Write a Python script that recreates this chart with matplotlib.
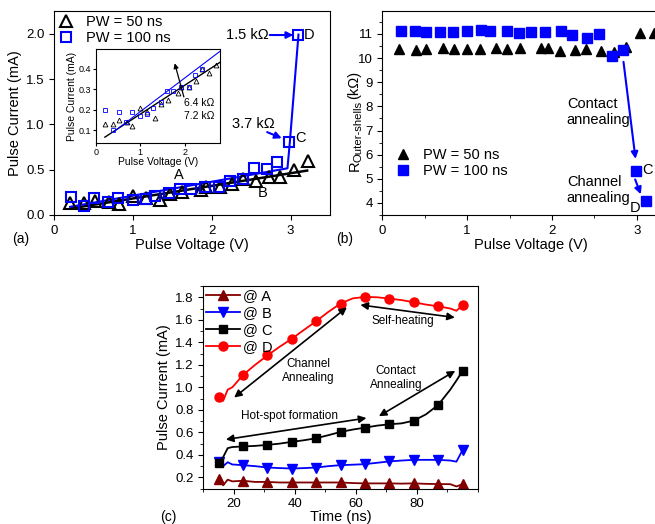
import matplotlib
matplotlib.use("Agg")
import matplotlib.pyplot as plt
from matplotlib.ticker import MultipleLocator, FormatStrFormatter, FixedLocator

plt.rcParams['font.family'] = ['Liberation Sans', 'DejaVu Sans']
plt.rcParams['xtick.direction'] = 'out'
plt.rcParams['ytick.direction'] = 'out'
plt.rcParams['xtick.labelsize'] = 9.5
plt.rcParams['ytick.labelsize'] = 9.5
plt.rcParams['axes.labelsize'] = 10.5

BLUE = '#0000ff'

# (a) pulse current vs pulse voltage
v50 = [0.20, 0.38, 0.52, 0.69, 0.82, 1.00, 1.16, 1.34, 1.47, 1.62, 1.86, 1.93, 2.10, 2.26, 2.39, 2.56, 2.72, 2.87, 3.04, 3.22]
i50 = [0.13, 0.13, 0.15, 0.14, 0.12, 0.21, 0.19, 0.16, 0.23, 0.25, 0.28, 0.31, 0.31, 0.34, 0.40, 0.38, 0.42, 0.42, 0.50, 0.60]
v100 = [0.21, 0.38, 0.51, 0.68, 0.81, 1.00, 1.16, 1.28, 1.46, 1.60, 1.74, 1.91, 2.09, 2.23, 2.39, 2.54, 2.70, 2.83, 2.98, 3.10]
i100 = [0.20, 0.10, 0.19, 0.14, 0.19, 0.17, 0.18, 0.21, 0.24, 0.29, 0.29, 0.31, 0.31, 0.37, 0.40, 0.52, 0.51, 0.59, 0.80, 1.99]
# guide lines drawn in (a)
fit50_v = [0.22, 3.21]
fit50_i = [0.074, 0.49]
fit100_v = [0.20, 2.96, 2.99, 3.10]
fit100_i = [0.09, 0.515, 0.80, 1.99]
# fits shown in the inset
ins50_v = [0.20, 2.81]
ins50_i = [0.067, 0.433]
ins100_v = [0.41, 2.81]
ins100_i = [0.095, 0.487]

# (b) outer-shell resistance
vb50 = [0.20, 0.40, 0.52, 0.71, 0.84, 1.00, 1.15, 1.34, 1.47, 1.62, 1.87, 1.95, 2.10, 2.27, 2.40, 2.58, 2.73, 2.87, 3.04, 3.20]
rb50 = [10.37, 10.35, 10.37, 10.40, 10.37, 10.37, 10.37, 10.40, 10.37, 10.40, 10.42, 10.40, 10.30, 10.33, 10.37, 10.30, 10.26, 10.47, 11.03, 11.03]
vb100 = [0.22, 0.39, 0.52, 0.68, 0.83, 1.00, 1.16, 1.27, 1.47, 1.61, 1.75, 1.92, 2.11, 2.24, 2.41, 2.55, 2.71, 2.84, 2.99, 3.11]
rb100 = [11.14, 11.11, 11.08, 11.10, 11.08, 11.11, 11.15, 11.13, 11.11, 11.04, 11.06, 11.10, 11.14, 10.96, 10.83, 11.00, 10.10, 10.35, 5.34, 4.07]

# (c) transient pulse current traces
t_trace = [15, 16.5, 18, 19.5, 23, 27, 31, 35, 39, 43, 47, 51, 55, 59, 63, 67, 71, 75, 79, 83, 87, 91, 93, 95]
t_mark = [15, 23, 31, 39, 47, 55, 63, 71, 79, 87, 95]
cur_A = [0.19, 0.13, 0.18, 0.165, 0.17, 0.16, 0.16, 0.155, 0.155, 0.155, 0.155, 0.155, 0.155, 0.15, 0.147, 0.147, 0.147, 0.145, 0.147, 0.143, 0.141, 0.14, 0.12, 0.14]
cur_B = [0.333, 0.30, 0.335, 0.315, 0.309, 0.30, 0.288, 0.283, 0.279, 0.283, 0.288, 0.30, 0.309, 0.313, 0.318, 0.33, 0.342, 0.35, 0.356, 0.356, 0.356, 0.35, 0.34, 0.442]
cur_C = [0.33, 0.38, 0.46, 0.47, 0.475, 0.48, 0.489, 0.50, 0.516, 0.53, 0.548, 0.575, 0.604, 0.625, 0.642, 0.66, 0.672, 0.68, 0.704, 0.76, 0.843, 0.98, 1.06, 1.145]
cur_D = [0.917, 0.88, 0.98, 1.0, 1.109, 1.20, 1.283, 1.36, 1.431, 1.51, 1.587, 1.67, 1.744, 1.79, 1.803, 1.80, 1.788, 1.775, 1.756, 1.735, 1.72, 1.70, 1.68, 1.729]

W, H = 655, 524
fig = plt.figure(figsize=(6.55, 5.24), dpi=100)

# ---------------- (a) ----------------
ax1 = fig.add_axes([0.0829, 0.5897, 0.4209, 0.3893])
ax1.plot(fit50_v, fit50_i, color='black', lw=1.8)
ax1.plot(fit100_v, fit100_i, color=BLUE, lw=1.5)
ax1.plot(v50, i50, '^', ls='none', mfc='none', mec='black', mew=1.5, ms=8.5, label='PW = 50 ns')
ax1.plot(v100, i100, 's', ls='none', mfc='none', mec=BLUE, mew=1.5, ms=7, label='PW = 100 ns')
ax1.set_xlim(0, 3.5)
ax1.set_ylim(0, 2.25)
ax1.xaxis.set_major_locator(MultipleLocator(1))
ax1.yaxis.set_major_locator(MultipleLocator(0.5))
ax1.yaxis.set_major_formatter(FormatStrFormatter('%.1f'))
ax1.set_xlabel('Pulse Voltage (V)', labelpad=1)
ax1.set_ylabel('Pulse Current (mA)', labelpad=3)
ax1.legend(loc='upper left', frameon=False, fontsize=10.5, handlelength=1.0,
           handletextpad=0.9, borderaxespad=0.1, borderpad=0.2, labelspacing=0.1)
ax1.annotate('', xy=(3.07, 1.985), xytext=(2.70, 1.985),
             arrowprops=dict(arrowstyle='-|>', color=BLUE, lw=1.5, mutation_scale=10))
ax1.text(2.445, 1.985, '1.5 kΩ', ha='center', va='center', fontsize=10.5)
ax1.text(3.24, 1.99, 'D', ha='center', va='center', fontsize=10.5)
ax1.annotate('', xy=(2.92, 0.835), xytext=(2.67, 0.926),
             arrowprops=dict(arrowstyle='-|>', color=BLUE, lw=1.5, mutation_scale=10))
ax1.text(2.53, 1.0, '3.7 kΩ', ha='center', va='center', fontsize=10.5)
ax1.text(3.13, 0.845, 'C', ha='center', va='center', fontsize=10.5)
ax1.text(1.58, 0.44, 'A', ha='center', va='center', fontsize=10.5)
ax1.text(2.65, 0.24, 'B', ha='center', va='center', fontsize=10.5)
fig.text(21 / W, 1 - 239 / H, '(a)', ha='center', va='center', fontsize=10)

# inset
axi = fig.add_axes([0.1466, 0.7277, 0.1893, 0.1782])
axi.plot(ins50_v, ins50_i, color='black', lw=1.0)
axi.plot(ins100_v, ins100_i, color=BLUE, lw=0.8)
axi.plot(v50, i50, '^', ls='none', mfc='none', mec='black', mew=0.6, ms=3.5)
axi.plot(v100, i100, 's', ls='none', mfc='none', mec=BLUE, mew=0.6, ms=3.2)
axi.set_xlim(0, 2.8)
axi.set_ylim(0.04, 0.495)
axi.xaxis.set_major_locator(MultipleLocator(1))
axi.yaxis.set_major_locator(MultipleLocator(0.1))
axi.yaxis.set_major_formatter(FormatStrFormatter('%.1f'))
axi.tick_params(labelsize=6.5, length=2, pad=1.5)
axi.set_xlabel('Pulse Voltage (V)', fontsize=7.5, labelpad=0)
axi.set_ylabel('Pulse Current (mA)', fontsize=7.5, labelpad=1)
axi.annotate('', xy=(1.76, 0.44), xytext=(2.0, 0.25),
             arrowprops=dict(arrowstyle='-|>', color='black', lw=0.9, mutation_scale=7))
axi.text(2.33, 0.234, '6.4 kΩ', ha='center', va='center', fontsize=7.5)
axi.text(2.33, 0.17, '7.2 kΩ', ha='center', va='center', fontsize=7.5)

# ---------------- (b) ----------------
ax2 = fig.add_axes([0.5837, 0.5897, 0.4531, 0.3893])
ax2.plot(vb50, rb50, '^', ls='none', color='black', ms=7.5, label='PW = 50 ns')
ax2.plot(vb100, rb100, 's', ls='none', color=BLUE, ms=6.5, label='PW = 100 ns')
ax2.set_xlim(0, 3.5)
ax2.set_ylim(3.5, 11.95)
ax2.xaxis.set_major_locator(MultipleLocator(1))
ax2.xaxis.set_minor_locator(MultipleLocator(0.5))
ax2.yaxis.set_major_locator(MultipleLocator(1))
ax2.yaxis.set_minor_locator(MultipleLocator(0.5))
ax2.set_xlabel('Pulse Voltage (V)', labelpad=1)
# y label: R with a large subscript, built from three rotated texts
ylab = dict(rotation=90, rotation_mode='anchor', ha='left', va='baseline')
fig.text(358.5 / W, 1 - 171 / H, 'R', fontsize=10.5, **ylab)
fig.text(361.5 / W, 1 - 162 / H, 'Outer-shells', fontsize=8.2, **ylab)
fig.text(358.5 / W, 1 - 99 / H, '(kΩ)', fontsize=10.5, **ylab)
ax2.legend(loc='upper left', bbox_to_anchor=(0.03, 0.35), frameon=False, fontsize=10.5,
           handlelength=1.0, handletextpad=0.9, borderaxespad=0, borderpad=0.3, labelspacing=0.15)
ax2.annotate('', xy=(2.99, 5.71), xytext=(2.84, 9.96),
             arrowprops=dict(arrowstyle='-|>', color=BLUE, lw=1.5, mutation_scale=10))
ax2.annotate('', xy=(3.06, 4.25), xytext=(2.97, 5.08),
             arrowprops=dict(arrowstyle='-|>', color=BLUE, lw=1.5, mutation_scale=10))
ax2.text(2.175, 7.77, 'Contact\nannealing', ha='left', va='center', fontsize=10.5, linespacing=1.15)
ax2.text(2.175, 4.53, 'Channel\nannealing', ha='left', va='center', fontsize=10.5, linespacing=1.15)
ax2.text(3.125, 5.36, 'C', ha='center', va='center', fontsize=10.5)
ax2.text(2.98, 3.79, 'D', ha='center', va='center', fontsize=10.5)
fig.text(345 / W, 1 - 239 / H, '(b)', ha='center', va='center', fontsize=10)

# ---------------- (c) ----------------
ax3 = fig.add_axes([0.3104, 0.0674, 0.4190, 0.3868])
marks = [t_trace.index(t) for t in t_mark]
ax3.plot(t_trace, cur_A, color='#800000', marker='^', ms=6.5, markevery=marks, lw=1.3, label='@ A')
ax3.plot(t_trace, cur_B, color=BLUE, marker='v', ms=6.5, markevery=marks, lw=1.3, label='@ B')
ax3.plot(t_trace, cur_C, color='black', marker='s', ms=6, markevery=marks, lw=1.3, label='@ C')
ax3.plot(t_trace, cur_D, color='#ff0000', marker='o', ms=6.5, markevery=marks, lw=1.3, label='@ D')
ax3.set_xlim(10, 100)
ax3.set_ylim(0.1, 1.9)
ax3.xaxis.set_major_locator(FixedLocator([20, 40, 60, 80]))
ax3.xaxis.set_minor_locator(MultipleLocator(10))
ax3.yaxis.set_major_locator(MultipleLocator(0.2))
ax3.yaxis.set_minor_locator(MultipleLocator(0.1))
ax3.yaxis.set_major_formatter(FormatStrFormatter('%.1f'))
ax3.set_xlabel('Time (ns)', labelpad=0)
ax3.set_ylabel('Pulse Current (mA)', labelpad=3)
ax3.legend(loc='upper left', frameon=False, fontsize=10.5, handlelength=2.3,
           handletextpad=0.2, borderaxespad=0, borderpad=0.2, labelspacing=0.2)
arw = dict(arrowstyle='<|-|>', color='black', lw=1.2, mutation_scale=11)
ax3.annotate('', xy=(57.8, 1.726), xytext=(19.4, 0.894), arrowprops=arw)
ax3.annotate('', xy=(60.6, 1.735), xytext=(93.4, 1.617), arrowprops=arw)
ax3.annotate('', xy=(16.5, 0.533), xytext=(64.4, 0.731), arrowprops=arw)
ax3.annotate('', xy=(66.8, 0.731), xytext=(93.4, 1.159), arrowprops=arw)
ax3.text(44.5, 1.145, 'Channel\nAnnealing', ha='center', va='center', fontsize=8.5, linespacing=1.2)
ax3.text(75.5, 1.587, 'Self-heating', ha='center', va='center', fontsize=8.5)
ax3.text(38.2, 0.746, 'Hot-spot formation', ha='center', va='center', fontsize=8.5)
ax3.text(73.1, 1.08, 'Contact\nAnnealing', ha='center', va='center', fontsize=8.5, linespacing=1.2)
fig.text(168 / W, 1 - 516.7 / H, '(c)', ha='center', va='center', fontsize=10)

fig.savefig('out.png', dpi=100)
